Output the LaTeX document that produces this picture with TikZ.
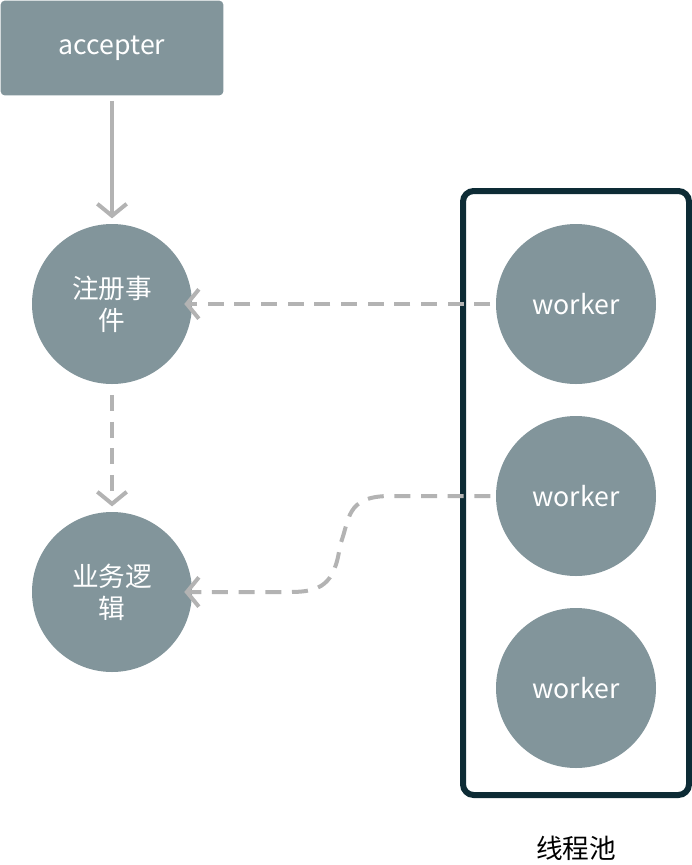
\documentclass[tikz,border=0pt]{standalone}
\usepackage{fontspec}
\setmainfont{Noto Sans CJK SC}
\usetikzlibrary{arrows.meta}
\definecolor{nodegray}{HTML}{82959B}
\definecolor{linegray}{HTML}{B3B3B3}
\definecolor{pooldark}{HTML}{0D2B35}
\tikzset{
  ball/.style={circle, fill=nodegray, minimum size=120pt, inner sep=0pt, text=white, font=\fontsize{20}{24}\selectfont, align=center},
  link/.style={draw=linegray, line width=3pt, -{Straight Barb[length=9pt,width=22pt,line width=3pt]}},
  dashlink/.style={link, dash pattern=on 12pt off 8pt}
}
\begin{document}
\begin{tikzpicture}[x=0.75pt,y=-0.75pt]
  \useasboundingbox (0,0) rectangle (692,865);
  % acceptor on top
  \node[rounded corners=3pt, fill=nodegray, minimum width=167pt, minimum height=71pt, text=white, font=\fontsize{20}{24}\selectfont] (acc) at (112,48) {accepter};
  \node[ball] (reg) at (112,304) {注册事\\件};
  \node[ball] (biz) at (112,592) {业务逻\\辑};
  % thread pool
  \draw[pooldark, line width=4.5pt, rounded corners=8pt] (463,191) rectangle (689,795);
  \node[ball] (w1) at (576,304) {worker};
  \node[ball] (w2) at (576,496) {worker};
  \node[ball] (w3) at (576,688) {worker};
  \node[font=\fontsize{20}{24}\selectfont] (pool) at (576,848) {线程池};
  \coordinate (mid) at (340,545);
  \draw[link] ([yshift=-4pt]acc.south) -- ([yshift=4pt]reg.north);
  \draw[dashlink] ([yshift=-8pt]reg.south) -- ([yshift=4pt]biz.north);
  \draw[dashlink] ([xshift=-4pt]w1.west) -- ([xshift=-6pt]reg.east);
  \draw[dashlink] ([xshift=-4pt]w2.west) -- (390,496) .. controls (345,496) and (350,520) .. (mid)
    .. controls (335,585) and (320,592) .. (290,592) -- ([xshift=-6pt]biz.east);
\end{tikzpicture}
\end{document}
